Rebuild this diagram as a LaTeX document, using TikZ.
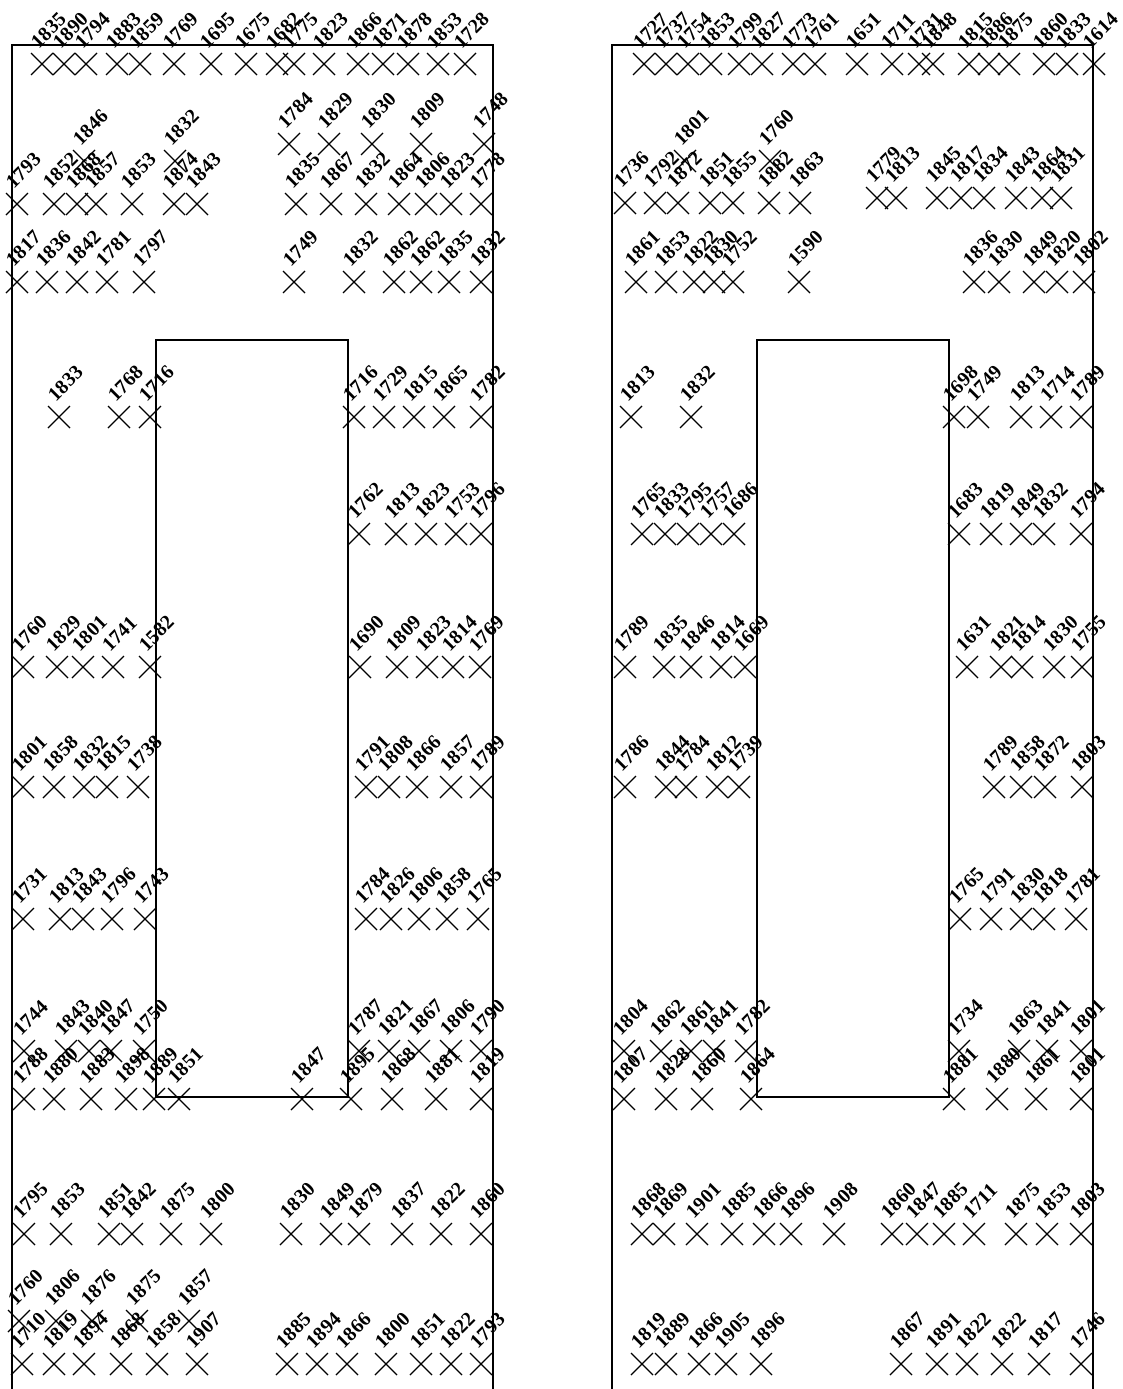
\documentclass[tikz,border=0pt]{standalone}
\usepackage{fontspec}
\setmainfont{Liberation Serif}
\tikzset{
  xm/.style={line width=1.3pt, black},
  lab/.style={rotate=45, anchor=south west, inner sep=0pt, font=\fontsize{20}{20}\selectfont\bfseries},
  frame/.style={line width=1.4pt, black}
}
\newcommand\yr[3]{%
  \draw[xm] (#1-11,#2-11) -- (#1+11,#2+11) (#1-11,#2+11) -- (#1+11,#2-11);
  \node[lab] (n-#2-#1) at (#1-3,#2-14.5) {#3};}
\newcommand\yrow[2]{\foreach \xx/\ll in {#2} {\yr{\xx}{#1}{\ll}}}
\begin{document}
\begin{tikzpicture}[x=1pt,y=-1pt]
\useasboundingbox (0,0) rectangle (1122,1389);
\clip (0,0) rectangle (1122,1389);
% frames
\draw[frame] (12,1400) -- (12,45) -- (493,45) -- (493,1400);
\draw[frame] (612,1400) -- (612,45) -- (1093,45) -- (1093,1400);
\draw[frame] (156,340) rectangle (348,1097);
\draw[frame] (757,340) rectangle (949,1097);
% ---------- left panel ----------
\yrow{64}{42/1835,64/1890,86/1794,117/1883,140/1859,174/1769,211/1695,246/1675,277/1682,294/1775,324/1823,358/1866,383/1871,408/1878,438/1853,465/1728}
\yrow{144}{289/1784,329/1829,372/1830,421/1809,484/1748}
\yrow{161}{84/1846,175/1832}
\yrow{204}{17/1793,54/1852,77/1868,96/1857,132/1853,174/1874,197/1843,296/1835,331/1867,366/1832,399/1864,426/1806,451/1823,481/1778}
\yrow{282}{17/1817,47/1836,77/1842,107/1781,144/1797,294/1749,354/1832,394/1862,421/1862,449/1835,481/1832}
\yrow{417}{59/1833,119/1768,150/1716,354/1716,384/1729,414/1815,444/1865,481/1782}
\yrow{534}{359/1762,396/1813,426/1823,456/1753,481/1796}
\yrow{667}{23/1760,57/1829,83/1801,113/1741,150/1582,360/1690,397/1809,427/1823,453/1814,480/1769}
\yrow{787}{23/1801,54/1858,84/1832,107/1815,138/1738,366/1791,389/1808,417/1866,451/1857,481/1789}
\yrow{919}{23/1731,60/1813,83/1843,112/1796,145/1743,366/1784,391/1826,419/1806,447/1858,478/1765}
\yrow{1051}{24/1744,66/1843,89/1840,111/1847,144/1750,359/1787,389/1821,419/1867,451/1806,481/1790}
\yrow{1099}{24/1788,54/1880,91/1883,126/1898,154/1889,179/1851,302/1847,351/1895,392/1868,436/1881,481/1819}
\yrow{1234}{24/1795,61/1853,109/1851,132/1842,171/1875,211/1800,291/1830,331/1849,359/1879,402/1837,441/1822,481/1860}
\yrow{1321}{19/1760,56/1806,92/1876,137/1875,189/1857}
\yrow{1364}{22/1710,54/1819,84/1894,121/1868,157/1858,197/1907,287/1885,317/1894,347/1866,386/1800,421/1851,451/1822,481/1793}
% ---------- right panel ----------
\yrow{64}{644/1727,666/1737,688/1754,711/1853,739/1799,762/1827,793/1773,815/1761,857/1651,892/1711,919/1731,933/1848,969/1815,989/1886,1009/1875,1044/1860,1067/1833,1094/1614}
\yrow{161}{685/1801,770/1760}
\yrow{203}{625/1736,655/1792,678/1872,710/1851,733/1855,769/1882,800/1863}
\yrow{198}{877/1779,896/1813,937/1845,961/1817,984/1834,1016/1843,1042/1864,1061/1831}
\yrow{282}{636/1861,666/1853,694/1822,714/1830,733/1752,799/1590,974/1836,999/1830,1034/1849,1057/1820,1084/1802}
\yrow{417}{631/1813,691/1832,954/1698,978/1749,1021/1813,1051/1714,1081/1789}
\yrow{534}{642/1765,665/1833,688/1795,711/1757,734/1686,959/1683,991/1819,1021/1849,1044/1832,1081/1794}
\yrow{667}{625/1789,664/1835,691/1846,721/1814,745/1669,967/1631,1001/1821,1022/1814,1054/1830,1082/1755}
\yrow{787}{625/1786,666/1844,686/1784,717/1812,739/1739,994/1789,1021/1858,1045/1872,1082/1803}
\yrow{919}{960/1765,991/1791,1021/1830,1044/1818,1076/1781}
\yrow{1051}{624/1804,661/1862,691/1861,714/1841,746/1782,959/1734,1019/1863,1047/1841,1081/1801}
\yrow{1099}{624/1807,666/1828,702/1860,751/1864,954/1881,997/1880,1036/1861,1081/1801}
\yrow{1234}{642/1868,664/1869,697/1901,732/1885,764/1866,791/1896,834/1908,892/1860,917/1847,944/1885,974/1711,1016/1875,1047/1853,1081/1803}
\yrow{1364}{642/1819,666/1889,699/1866,726/1905,761/1896,901/1867,937/1891,967/1822,1002/1822,1039/1817,1081/1746}
\end{tikzpicture}
\end{document}
